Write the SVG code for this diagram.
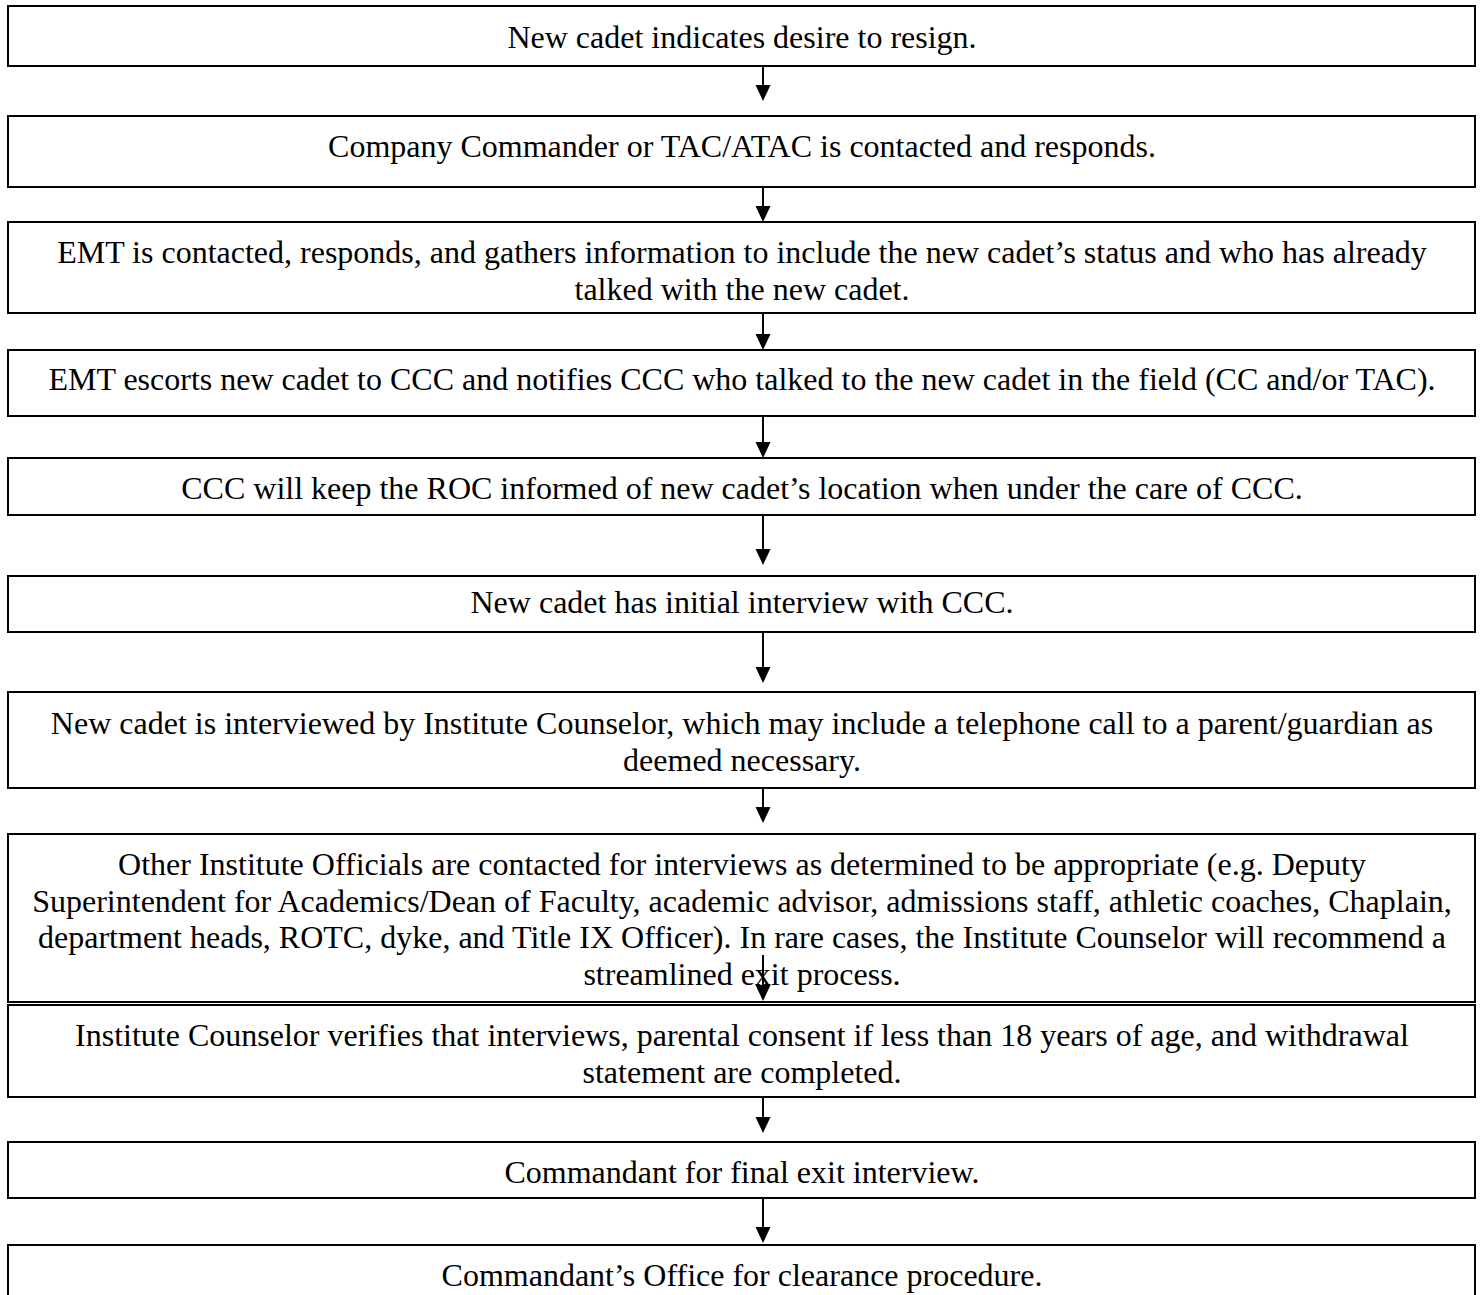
<svg xmlns="http://www.w3.org/2000/svg" width="1481" height="1295" viewBox="0 0 1481 1295">
<style>
.box{fill:#fff;stroke:#000;stroke-width:2}
.t{font-family:"Liberation Serif","Times New Roman",serif;font-size:32px;fill:#000;text-anchor:middle}
.c{stroke:#000;stroke-width:2;fill:none}
</style>
<defs>
<marker id="ah" markerUnits="userSpaceOnUse" markerWidth="16" markerHeight="16" refX="12" refY="8" orient="auto">
<path d="M0,0.5 L16,8 L0,15.5 z" fill="#000"/>
</marker>
</defs>
<rect width="1481" height="1295" fill="#fff"/>
<g id="n1"><rect class="box" x="8" y="6" width="1467" height="60"/><text class="t" x="742" y="48">New cadet indicates desire to resign.</text></g>
<g id="n2"><rect class="box" x="8" y="116" width="1467" height="71"/><text class="t" x="742" y="157">Company Commander or TAC/ATAC is contacted and responds.</text></g>
<g id="n3"><rect class="box" x="8" y="222" width="1467" height="91"/><text class="t" x="742" y="263">EMT is contacted, responds, and gathers information to include the new cadet’s status and who has already</text><text class="t" x="742" y="300">talked with the new cadet.</text></g>
<g id="n4"><rect class="box" x="8" y="350" width="1467" height="66"/><text class="t" x="742" y="390">EMT escorts new cadet to CCC and notifies CCC who talked to the new cadet in the field (CC and/or TAC).</text></g>
<g id="n5"><rect class="box" x="8" y="458" width="1467" height="57"/><text class="t" x="742" y="499">CCC will keep the ROC informed of new cadet’s location when under the care of CCC.</text></g>
<g id="n6"><rect class="box" x="8" y="576" width="1467" height="56"/><text class="t" x="742" y="613">New cadet has initial interview with CCC.</text></g>
<g id="n7"><rect class="box" x="8" y="692" width="1467" height="96"/><text class="t" x="742" y="734">New cadet is interviewed by Institute Counselor, which may include a telephone call to a parent/guardian as</text><text class="t" x="742" y="771">deemed necessary.</text></g>
<g id="n8"><rect class="box" x="8" y="834" width="1467" height="168"/><text class="t" x="742" y="875">Other Institute Officials are contacted for interviews as determined to be appropriate (e.g. Deputy</text><text class="t" x="742" y="912">Superintendent for Academics/Dean of Faculty, academic advisor, admissions staff, athletic coaches, Chaplain,</text><text class="t" x="742" y="948">department heads, ROTC, dyke, and Title IX Officer). In rare cases, the Institute Counselor will recommend a</text><text class="t" x="742" y="985">streamlined exit process.</text></g>
<g id="n9"><rect class="box" x="8" y="1005" width="1467" height="92"/><text class="t" x="742" y="1046">Institute Counselor verifies that interviews, parental consent if less than 18 years of age, and withdrawal</text><text class="t" x="742" y="1083">statement are completed.</text></g>
<g id="n10"><rect class="box" x="8" y="1142" width="1467" height="56"/><text class="t" x="742" y="1183">Commandant for final exit interview.</text></g>
<g id="n11"><rect class="box" x="8" y="1245" width="1467" height="70"/><text class="t" x="742" y="1286">Commandant’s Office for clearance procedure.</text></g>
<g id="connectors">
<line class="c" x1="763" y1="66" x2="763" y2="97" marker-end="url(#ah)"/>
<line class="c" x1="763" y1="187" x2="763" y2="218" marker-end="url(#ah)"/>
<line class="c" x1="763" y1="313" x2="763" y2="346" marker-end="url(#ah)"/>
<line class="c" x1="763" y1="416" x2="763" y2="454" marker-end="url(#ah)"/>
<line class="c" x1="763" y1="515" x2="763" y2="561" marker-end="url(#ah)"/>
<line class="c" x1="763" y1="632" x2="763" y2="679" marker-end="url(#ah)"/>
<line class="c" x1="763" y1="788" x2="763" y2="819" marker-end="url(#ah)"/>
<line class="c" x1="763" y1="955" x2="763" y2="997" marker-end="url(#ah)"/>
<line class="c" x1="763" y1="1097" x2="763" y2="1129" marker-end="url(#ah)"/>
<line class="c" x1="763" y1="1198" x2="763" y2="1239" marker-end="url(#ah)"/>
</g>
</svg>
